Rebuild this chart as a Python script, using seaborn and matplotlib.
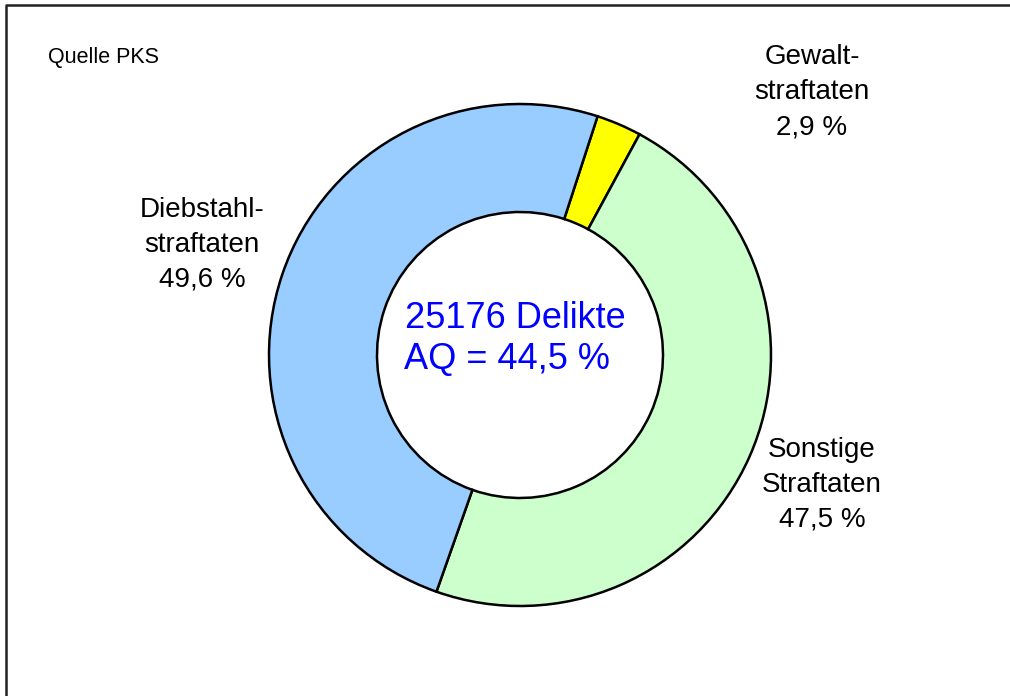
import matplotlib
matplotlib.use("Agg")
import matplotlib.pyplot as plt
import seaborn as sns

# Data
categories = ["Gewalt-\nstraftaten", "Sonstige\nStraftaten", "Diebstahl-\nstraftaten"]
shares = [2.9, 47.5, 49.6]
share_labels = ["2,9 %", "47,5 %", "49,6 %"]
colors = ["#FFFF00", "#CCFFCC", "#99CCFF"]
center_lines = ["25176 Delikte", "AQ = 44,5 %"]
source_text = "Quelle PKS"

sns.set_theme(style="white")
plt.rcParams['font.family'] = ['Liberation Sans', 'DejaVu Sans']

W, H = 1010, 696
fig = plt.figure(figsize=(W / 100, H / 100), dpi=100)
ax = fig.add_axes([0, 0, 1, 1])

def Y(py):
    return H - py

cx, cy = 520, 355
r_out, r_in = 251, 143
palette = sns.color_palette(colors)

ax.pie(shares, colors=palette, startangle=72.0, counterclock=False,
       center=(cx, Y(cy)), radius=r_out,
       wedgeprops=dict(width=r_out - r_in, edgecolor="black", linewidth=1.8))
ax.set_xlim(0, W)
ax.set_ylim(0, H)
ax.set_aspect('equal')
ax.axis('off')

label_pos = [(812, 92), (822, 485), (202, 245)]
for cat, lab, (x, y) in zip(categories, share_labels, label_pos):
    ax.text(x, Y(y), cat + "\n" + lab, ha="center", va="center",
            fontsize=20, color="black", linespacing=1.45)

ax.text(515, Y(319), center_lines[0], ha="center", va="center", fontsize=26, color="#0000FF")
ax.text(507, Y(359), center_lines[1], ha="center", va="center", fontsize=26, color="#0000FF")

ax.text(48, Y(57), source_text, ha="left", va="center", fontsize=15.5, color="black")

# frame (top and left edges visible)
ax.plot([6, 6, W + 10], [-10, Y(5), Y(5)], color="#222222", lw=1.8, clip_on=False)

fig.savefig("out.png", dpi=100, facecolor="white")
